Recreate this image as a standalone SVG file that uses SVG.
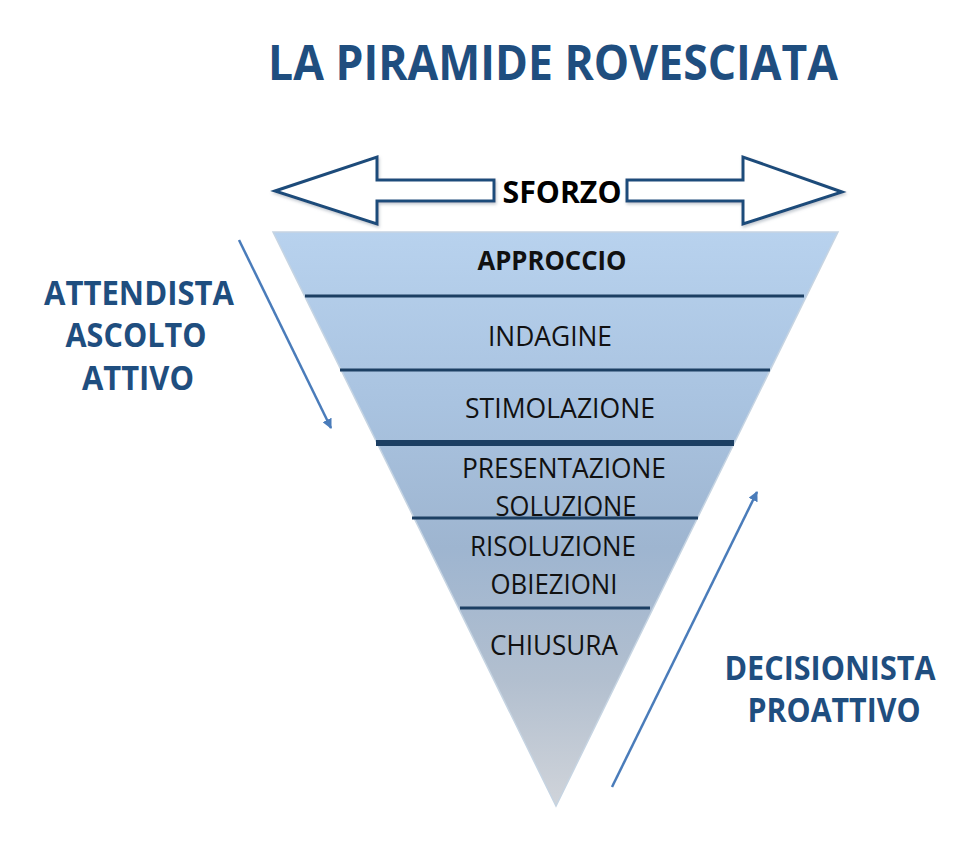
<svg xmlns="http://www.w3.org/2000/svg" width="977" height="847" viewBox="0 0 977 847">
<defs>
<linearGradient id="pyr" x1="0" y1="232" x2="0" y2="806" gradientUnits="userSpaceOnUse">
<stop offset="0" stop-color="#b8d2ee"/>
<stop offset="0.3" stop-color="#a9c3e0"/>
<stop offset="0.55" stop-color="#9eb5d0"/>
<stop offset="0.78" stop-color="#b2bfcf"/>
<stop offset="1" stop-color="#d0d4da"/>
</linearGradient>
<marker id="ah" viewBox="0 0 10 10" refX="9" refY="5" markerWidth="4" markerHeight="4" orient="auto" markerUnits="strokeWidth">
<path d="M0,0 L10,5 L0,10 z" fill="#4a7cba"/>
</marker>
<filter id="sh" x="-5%" y="-10%" width="110%" height="125%">
<feDropShadow dx="1" dy="2" stdDeviation="1.5" flood-color="#7a8a9a" flood-opacity="0.45"/>
</filter>
</defs>
<style>
.title{font-family:"Open Sans","Liberation Sans",sans-serif;font-weight:bold;fill:#1f4e7f;}
.side{font-family:"Open Sans","Liberation Sans",sans-serif;font-weight:bold;fill:#1f4e7f;font-size:34px;}
.lbl{font-family:"Open Sans","Liberation Sans",sans-serif;fill:#111;font-size:27px;}
.bold{font-weight:bold;}
.sep{stroke:#1c3f63;stroke-width:3;}
.thick{stroke-width:6;}
.conn{stroke:#4a7cba;stroke-width:2.5;fill:none;}
.arr{fill:#fff;stroke:#1e4b7a;stroke-width:3;stroke-linejoin:miter;}
</style>
<rect width="977" height="847" fill="#fff"/>
<text class="title" x="553" y="80" font-size="49" text-anchor="middle" textLength="570" lengthAdjust="spacingAndGlyphs">LA PIRAMIDE ROVESCIATA</text>

<g id="sforzo">
<polygon class="arr" filter="url(#sh)" points="275,191 377,157 377,180 494,180 494,201 377,201 377,224"/>
<polygon class="arr" filter="url(#sh)" points="842,192 743,157 743,180 627,180 627,201 743,201 743,224"/>
<text x="562" y="203" font-family="Open Sans, Liberation Sans, sans-serif" font-weight="bold" font-size="30" fill="#000" text-anchor="middle" textLength="119" lengthAdjust="spacingAndGlyphs">SFORZO</text>
</g>

<g id="piramide">
<polygon points="273,232 838,232 556,806" fill="url(#pyr)" stroke="#c6d4e2" stroke-width="1.5"/>
<line class="sep" x1="305" y1="296" x2="804" y2="296"/>
<line class="sep" x1="340" y1="370" x2="770" y2="370"/>
<line class="sep thick" x1="376" y1="443" x2="734" y2="443"/>
<line class="sep" x1="412" y1="518" x2="698" y2="518"/>
<line class="sep" x1="460" y1="608" x2="650" y2="608"/>
</g>

<g id="approccio"><text class="lbl bold" x="552" y="270" text-anchor="middle" textLength="149" lengthAdjust="spacingAndGlyphs">APPROCCIO</text></g>
<g id="indagine"><text class="lbl" x="550" y="346" text-anchor="middle" textLength="124" lengthAdjust="spacingAndGlyphs">INDAGINE</text></g>
<g id="stimolazione"><text class="lbl" x="560" y="418" text-anchor="middle" textLength="190" lengthAdjust="spacingAndGlyphs">STIMOLAZIONE</text></g>
<g id="presentazione">
<text class="lbl" x="564" y="478" text-anchor="middle" textLength="204" lengthAdjust="spacingAndGlyphs">PRESENTAZIONE</text>
<text class="lbl" x="566" y="516" text-anchor="middle" textLength="141" lengthAdjust="spacingAndGlyphs">SOLUZIONE</text>
</g>
<g id="risoluzione">
<text class="lbl" x="553" y="556" text-anchor="middle" textLength="166" lengthAdjust="spacingAndGlyphs">RISOLUZIONE</text>
<text class="lbl" x="554" y="594" text-anchor="middle" textLength="127" lengthAdjust="spacingAndGlyphs">OBIEZIONI</text>
</g>
<g id="chiusura"><text class="lbl" x="554" y="655" text-anchor="middle" textLength="128" lengthAdjust="spacingAndGlyphs">CHIUSURA</text></g>

<g id="attendista">
<text class="side" x="139" y="305" text-anchor="middle" textLength="190" lengthAdjust="spacingAndGlyphs">ATTENDISTA</text>
<text class="side" x="136" y="347" text-anchor="middle" textLength="141" lengthAdjust="spacingAndGlyphs">ASCOLTO</text>
<text class="side" x="138" y="390" text-anchor="middle" textLength="112" lengthAdjust="spacingAndGlyphs">ATTIVO</text>
</g>
<g id="decisionista">
<text class="side" x="830" y="680" text-anchor="middle" textLength="211" lengthAdjust="spacingAndGlyphs">DECISIONISTA</text>
<text class="side" x="834" y="722" text-anchor="middle" textLength="173" lengthAdjust="spacingAndGlyphs">PROATTIVO</text>
</g>

<g id="connectors">
<line class="conn" x1="239" y1="240" x2="331" y2="428" marker-end="url(#ah)"/>
<line class="conn" x1="612" y1="787" x2="757" y2="492" marker-end="url(#ah)"/>
</g>
</svg>
